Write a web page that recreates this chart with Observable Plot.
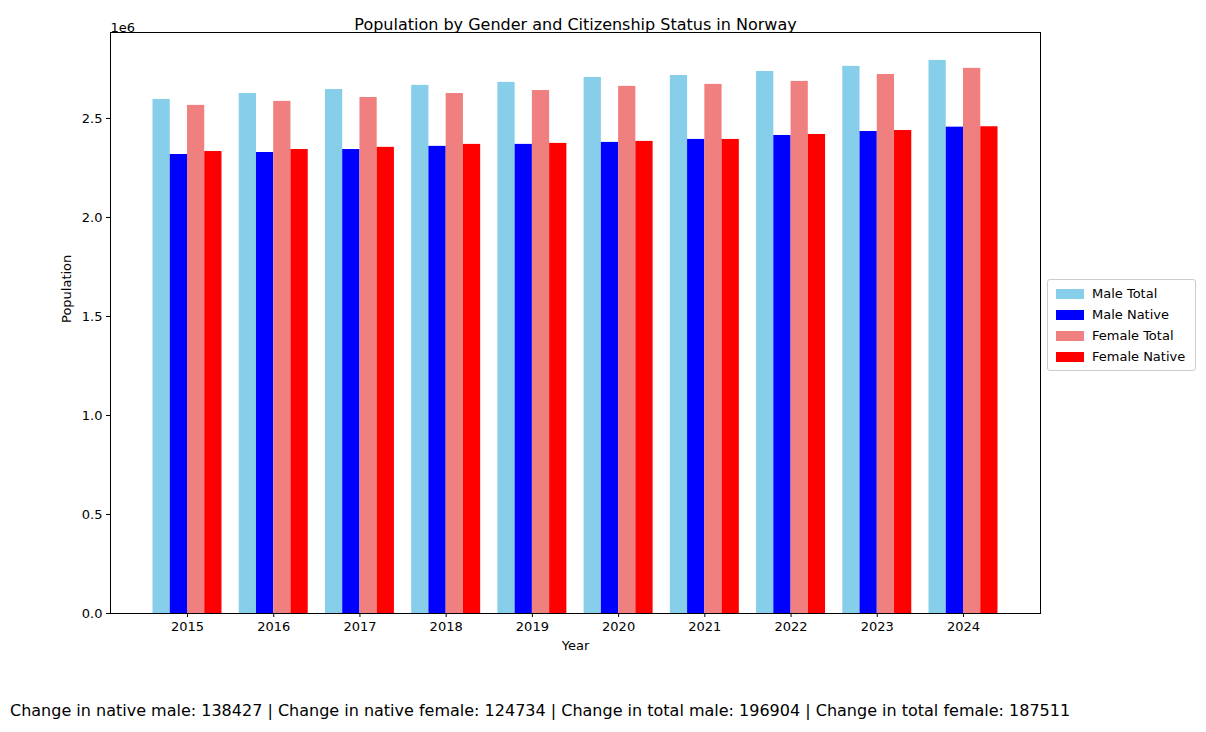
<!DOCTYPE html>
<html><head><meta charset="utf-8">
<script src="https://cdn.jsdelivr.net/npm/d3@7"></script>
<script src="https://cdn.jsdelivr.net/npm/@observablehq/plot@0.6"></script>
<style>
body{margin:0;font-family:"DejaVu Sans",sans-serif;background:#fff}
#wrap{position:relative;width:1206px;height:732px}
#legend{position:absolute;left:1047px;top:279px;width:147px;border:1px solid #ccc;border-radius:3px;padding:3px 0;font-size:13px;background:#fff}
#legend div{display:flex;align-items:center;height:21px;padding-left:8px}
#legend span{display:inline-block;width:28px;height:10px;margin-right:8px}
#cap{position:absolute;left:10px;top:701px;font-size:16px}
</style></head><body>
<div id="wrap"><div id="chart"></div><div id="legend"></div><div id="cap"></div></div>
<script>
const years = [2015,2016,2017,2018,2019,2020,2021,2022,2023,2024]
const maleTotal = [2.596,2.626,2.646,2.667,2.682,2.707,2.717,2.737,2.763,2.793]
const maleNative = [2.318,2.328,2.343,2.359,2.369,2.379,2.394,2.414,2.434,2.456]
const femaleTotal = [2.566,2.586,2.606,2.626,2.641,2.662,2.672,2.687,2.722,2.753]
const femaleNative = [2.333,2.343,2.354,2.369,2.374,2.384,2.394,2.419,2.439,2.458]
const seriesNames = ['Male Total','Male Native','Female Total','Female Native']
const seriesColors = ['skyblue','blue','lightcoral','red']
const caption = 'Change in native male: 138427 | Change in native female: 124734 | Change in total male: 196904 | Change in total female: 187511'

const seriesVals = [maleTotal, maleNative, femaleTotal, femaleNative]
const barW = 0.2
const data = []
seriesVals.forEach((vals, i) => {
  vals.forEach((v, j) => {
    const x0 = years[j] + (i - 2) * barW
    data.push({series: seriesNames[i], x1: x0, x2: x0 + barW, y: v * 1e6})
  })
})

const chart = Plot.plot({
  width: 1206, height: 672,
  marginLeft: 110, marginRight: 166, marginTop: 32, marginBottom: 59,
  style: {fontFamily: '"DejaVu Sans", sans-serif', fontSize: '13px', color: '#000'},
  x: {domain: [2015 - 0.893, 2024 + 0.893], ticks: years, tickFormat: d => String(d), label: null},
  y: {domain: [0, 2.934e6], ticks: [0,0.5e6,1e6,1.5e6,2e6,2.5e6], tickFormat: d => (d/1e6).toFixed(1), label: null},
  color: {domain: seriesNames, range: seriesColors},
  marks: [
    Plot.rectY(data, {x1: 'x1', x2: 'x2', y: 'y', fill: 'series'}),
    Plot.frame({stroke: '#000'}),
    Plot.axisX({ticks: years, tickFormat: d => String(d), tickSize: 4, tickPadding: 4, label: null}),
    Plot.axisY({ticks: [0,0.5e6,1e6,1.5e6,2e6,2.5e6], tickFormat: d => (d/1e6).toFixed(1), tickSize: 4, tickPadding: 4, label: null}),
    Plot.text(['Year'], {frameAnchor: 'bottom', dy: 36, fontSize: 13}),
    Plot.text(['Population'], {frameAnchor: 'left', dx: -44, rotate: -90, fontSize: 13}),
    Plot.text(['Population by Gender and Citizenship Status in Norway'], {frameAnchor: 'top', dy: -14, fontSize: 16}),
    Plot.text(['1e6'], {frameAnchor: 'top-left', dy: -10, dx: 0, textAnchor: 'start', fontSize: 13})
  ]
})
document.getElementById('chart').append(chart)
d3.select('#legend').selectAll('div').data(seriesNames).join('div')
  .html((d, i) => `<span style="background:${seriesColors[i]}"></span>${d}`)
d3.select('#cap').text(caption)
</script></body></html>
